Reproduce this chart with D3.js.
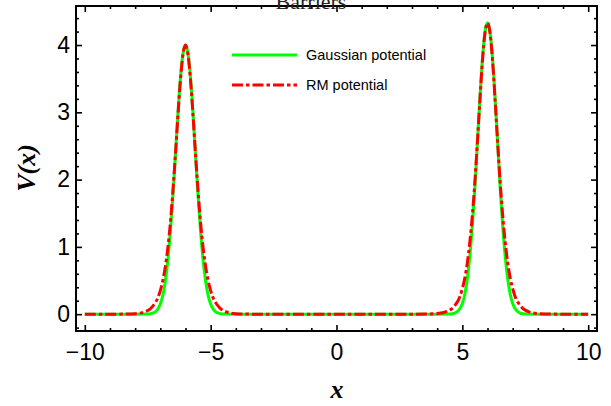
<!DOCTYPE html>
<html>
<head>
<meta charset="utf-8">
<script src="https://cdn.jsdelivr.net/npm/d3@7"></script>
<style>
  html, body { margin: 0; padding: 0; background: #fff; }
  svg { display: block; }
</style>
</head>
<body>
<svg id="chart" width="611" height="406"></svg>
<script>
// ---- data ----
const xValues = [-10, -9, -8.5, -8,
  -7.6, -7.5, -7.4, -7.3, -7.2, -7.1, -7.0, -6.9, -6.8, -6.7, -6.6, -6.5, -6.4, -6.3, -6.2, -6.1, -6.0,
  -5.9, -5.8, -5.7, -5.6, -5.5, -5.4, -5.3, -5.2, -5.1, -5.0, -4.9, -4.8, -4.7, -4.6, -4.5, -4.4,
  -4, -3.5, -3, 0, 3, 3.5, 4,
  4.4, 4.5, 4.6, 4.7, 4.8, 4.9, 5.0, 5.1, 5.2, 5.3, 5.4, 5.5, 5.6, 5.7, 5.8, 5.9, 6.0,
  6.1, 6.2, 6.3, 6.4, 6.5, 6.6, 6.7, 6.8, 6.9, 7.0, 7.1, 7.2, 7.3, 7.4, 7.5, 7.6,
  8, 8.5, 9, 10];

const gaussianValues = [0, 0, 0, 0,
  0.001, 0.002, 0.006, 0.015, 0.035, 0.075, 0.15, 0.28, 0.49, 0.80, 1.23, 1.76, 2.36, 2.98, 3.51, 3.87, 4.00,
  3.87, 3.51, 2.98, 2.36, 1.76, 1.23, 0.80, 0.49, 0.28, 0.15, 0.075, 0.035, 0.015, 0.006, 0.002, 0.001,
  0, 0, 0, 0, 0, 0, 0,
  0.001, 0.003, 0.007, 0.017, 0.038, 0.081, 0.16, 0.30, 0.53, 0.87, 1.33, 1.90, 2.56, 3.22, 3.80, 4.19, 4.33,
  4.19, 3.80, 3.22, 2.56, 1.90, 1.33, 0.87, 0.53, 0.30, 0.16, 0.081, 0.038, 0.017, 0.007, 0.003, 0.001,
  0, 0, 0, 0];

const rmValues = [0, 0.0001, 0.001, 0.008,
  0.038, 0.055, 0.080, 0.12, 0.17, 0.24, 0.35, 0.50, 0.71, 0.99, 1.36, 1.83, 2.37, 2.95, 3.48, 3.86, 4.00,
  3.86, 3.48, 2.95, 2.37, 1.83, 1.36, 0.99, 0.71, 0.50, 0.35, 0.24, 0.17, 0.12, 0.080, 0.055, 0.038,
  0.008, 0.001, 0.0002, 0, 0.0002, 0.0014, 0.009,
  0.041, 0.060, 0.087, 0.13, 0.18, 0.26, 0.38, 0.54, 0.77, 1.08, 1.48, 1.98, 2.57, 3.19, 3.77, 4.18, 4.33,
  4.18, 3.77, 3.19, 2.57, 1.98, 1.48, 1.08, 0.77, 0.54, 0.38, 0.26, 0.18, 0.13, 0.087, 0.060, 0.041,
  0.009, 0.0014, 0.0002, 0];

const seriesNames = ["Gaussian potential", "RM potential"];
const xTickValues = [-10, -5, 0, 5, 10];
const xTickLabels = ["\u221210", "\u22125", "0", "5", "10"];
const yTickValues = [0, 1, 2, 3, 4];
const yTickLabels = ["0", "1", "2", "3", "4"];
const titleText = "Barriers";
const xLabel = "x";
const yLabel = "V(x)";

// ---- layout ----
const svg = d3.select("#chart");
const frame = { left: 76, right: 597, top: 6, bottom: 331 };

const x = d3.scaleLinear().domain([-10.35, 10.35]).range([frame.left, frame.right]);
const y = d3.scaleLinear().domain([-0.25, 4.58]).range([frame.bottom, frame.top]);

const clipId = "plotclip";
svg.append("defs").append("clipPath").attr("id", clipId)
  .append("rect")
  .attr("x", frame.left).attr("y", frame.top)
  .attr("width", frame.right - frame.left).attr("height", frame.bottom - frame.top);

// curves
const gaussData = xValues.map((v, i) => [v, gaussianValues[i]]);
const rmData = xValues.map((v, i) => [v, rmValues[i]]);
const line = d3.line().x(d => x(d[0])).y(d => y(d[1])).curve(d3.curveMonotoneX);

const plot = svg.append("g").attr("clip-path", `url(#${clipId})`);
plot.append("path").datum(gaussData)
  .attr("d", line).attr("fill", "none")
  .attr("stroke", "#00ff00").attr("stroke-width", 3);
plot.append("path").datum(rmData)
  .attr("d", line).attr("fill", "none")
  .attr("stroke", "#ff0000").attr("stroke-width", 3)
  .attr("stroke-dasharray", "11,3,3.5,3");

// frame with ticks on all sides
const xMinor = d3.range(-10, 10.01, 1).filter(v => !xTickValues.includes(v));
const yMinor = d3.range(-0.2, 4.59, 0.2).map(v => Math.round(v * 10) / 10).filter(v => !yTickValues.includes(v));

function addAxis(axisGen, transform, ticks, size, labels) {
  const g = svg.append("g").attr("transform", transform)
    .call(axisGen.tickValues(ticks).tickSize(size).tickSizeOuter(0)
      .tickFormat(labels ? (d, i) => labels[i] : () => ""));
  g.select(".domain").remove();
  g.selectAll(".tick line").attr("stroke", "#000").attr("stroke-width", 1.6);
  return g;
}

// bottom
const bx = addAxis(d3.axisTop(x), `translate(0,${frame.bottom})`, xTickValues, 6, null);
addAxis(d3.axisTop(x), `translate(0,${frame.bottom})`, xMinor, 3, null);
// top
addAxis(d3.axisBottom(x), `translate(0,${frame.top})`, xTickValues, 6, null);
addAxis(d3.axisBottom(x), `translate(0,${frame.top})`, xMinor, 3, null);
// left
addAxis(d3.axisRight(y), `translate(${frame.left},0)`, yTickValues, 6, null);
addAxis(d3.axisRight(y), `translate(${frame.left},0)`, yMinor, 3, null);
// right
addAxis(d3.axisLeft(y), `translate(${frame.right},0)`, yTickValues, 6, null);
addAxis(d3.axisLeft(y), `translate(${frame.right},0)`, yMinor, 3, null);

// tick labels
const xl = svg.append("g").attr("transform", `translate(0,${frame.bottom})`)
  .call(d3.axisBottom(x).tickValues(xTickValues).tickSize(0).tickPadding(13)
    .tickFormat((d, i) => xTickLabels[i]));
xl.select(".domain").remove();
xl.selectAll("text").attr("font-family", "'Liberation Sans', Arial, sans-serif")
  .attr("font-size", 23).attr("fill", "#000");

const yl = svg.append("g").attr("transform", `translate(${frame.left},0)`)
  .call(d3.axisLeft(y).tickValues(yTickValues).tickSize(0).tickPadding(6)
    .tickFormat((d, i) => yTickLabels[i]));
yl.select(".domain").remove();
yl.selectAll("text").attr("font-family", "'Liberation Sans', Arial, sans-serif")
  .attr("font-size", 23).attr("fill", "#000");

// frame rectangle
svg.append("rect")
  .attr("x", frame.left).attr("y", frame.top)
  .attr("width", frame.right - frame.left).attr("height", frame.bottom - frame.top)
  .attr("fill", "none").attr("stroke", "#000").attr("stroke-width", 2);

// title (mostly clipped at the top)
svg.append("text").attr("x", 311).attr("y", 9)
  .attr("text-anchor", "middle")
  .attr("font-family", "'Liberation Serif', 'Times New Roman', serif")
  .attr("font-size", 22).attr("fill", "#222").text(titleText);

// axis labels
svg.append("text").attr("x", 337).attr("y", 398)
  .attr("text-anchor", "middle")
  .attr("font-family", "'Liberation Serif', 'Times New Roman', serif")
  .attr("font-style", "italic").attr("font-weight", "bold")
  .attr("font-size", 26).attr("fill", "#000").text(xLabel);

svg.append("text")
  .attr("transform", "translate(35,168) rotate(-90)")
  .attr("text-anchor", "middle")
  .attr("font-family", "'Liberation Serif', 'Times New Roman', serif")
  .attr("font-style", "italic").attr("font-weight", "bold")
  .attr("font-size", 26).attr("fill", "#000").text(yLabel);

// legend
const legend = svg.append("g");
const legendItems = [
  { name: seriesNames[0], color: "#00ff00", dash: null, yPos: 55 },
  { name: seriesNames[1], color: "#ff0000", dash: "11,3,3.5,3", yPos: 85 }
];
legendItems.forEach(it => {
  legend.append("line").attr("x1", 232).attr("x2", 297)
    .attr("y1", it.yPos).attr("y2", it.yPos)
    .attr("stroke", it.color).attr("stroke-width", 3)
    .attr("stroke-dasharray", it.dash);
  legend.append("text").attr("x", 306).attr("y", it.yPos)
    .attr("dy", "0.35em")
    .attr("font-family", "'Liberation Sans', Arial, sans-serif")
    .attr("font-size", 14.5).attr("fill", "#000").text(it.name);
});
</script>
</body>
</html>
